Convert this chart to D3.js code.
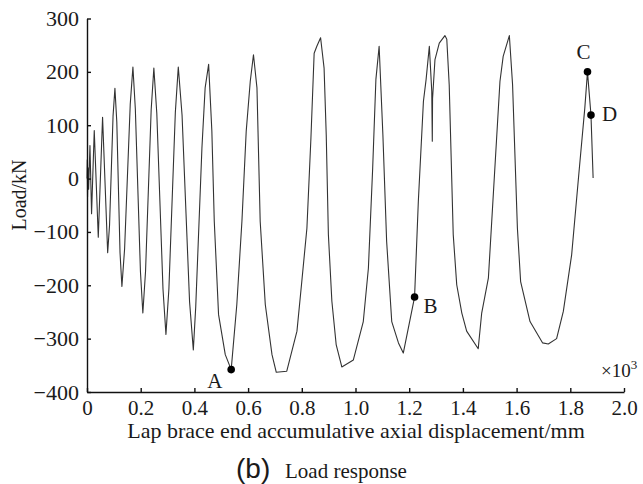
<!DOCTYPE html>
<html>
<head>
<meta charset="utf-8">
<script src="https://cdn.jsdelivr.net/npm/d3@7"></script>
<style>
body { margin: 0; background: #fff; }
svg text { font-family: "Liberation Serif", "Times New Roman", serif; fill: #1a1a1a; }
</style>
</head>
<body>
<script>
// accumulated axial displacement (x10^3 mm) and load (kN)
var disp = [0.000, 0.001, 0.002, 0.004, 0.006, 0.011, 0.017, 0.027, 0.042, 0.058,
            0.077, 0.084, 0.097, 0.104, 0.111, 0.123, 0.130, 0.140, 0.161, 0.171,
            0.180, 0.199, 0.208, 0.218, 0.239, 0.249, 0.260, 0.283, 0.294, 0.305,
            0.329, 0.340, 0.354, 0.382, 0.396, 0.405, 0.428,
            0.440, 0.453, 0.465, 0.474, 0.490, 0.515, 0.537, 0.558, 0.577, 0.593,
            0.608, 0.620, 0.633, 0.645, 0.664, 0.689, 0.705, 0.744, 0.782, 0.800,
            0.819, 0.834, 0.846, 0.856, 0.870, 0.883, 0.891, 0.899, 0.912, 0.928,
            0.949, 0.992, 1.029, 1.048, 1.064, 1.076, 1.088, 1.102, 1.116, 1.135,
            1.160, 1.178, 1.220, 1.234, 1.253, 1.263, 1.275, 1.284, 1.286, 1.287,
            1.296, 1.312, 1.333, 1.340, 1.349, 1.364, 1.377, 1.396, 1.414, 1.457,
            1.470, 1.495, 1.538, 1.550, 1.573, 1.585, 1.603, 1.615, 1.650, 1.697,
            1.718, 1.749, 1.774, 1.805, 1.832, 1.854, 1.864, 1.877, 1.885];
var load = [0, 35, -35, 20, -20, 62, -66, 90, -110, 115,
            -139, -87, 117, 169, 106, -139, -202, -132, 139, 209,
            131, -174, -252, -174, 129, 207, 122, -207, -292, -207,
            124, 209, 119, -231, -321, -240, 57,
            170, 214, 89, -80, -255, -330, -358, -236, -80, 89,
            182, 232, 170, -80, -236, -330, -363, -361, -286, -193,
            -93, 76, 235, 248, 264, 207, 82, -105, -230, -311,
            -353, -340, -268, -168, 20, 186, 248, 82, -118, -268,
            -308, -327, -222, -43, 145, 186, 248, 164, 70, 150,
            223, 254, 268, 261, 176, -105, -199, -252, -286, -319,
            -252, -186, 182, 229, 268, 176, -93, -193, -268, -308,
            -310, -300, -249, -143, 10, 132, 200, 119, 1];

// marked states
var markNames = ["A", "B", "C", "D"];
var markDisp = [0.537, 1.220, 1.864, 1.877];
var markLoad = [-358, -222, 200, 119];

var xTicks = [0, 0.2, 0.4, 0.6, 0.8, 1.0, 1.2, 1.4, 1.6, 1.8, 2.0];
var xTickLabels = ["0", "0.2", "0.4", "0.6", "0.8", "1.0", "1.2", "1.4", "1.6", "1.8", "2.0"];
var yTicks = [-400, -300, -200, -100, 0, 100, 200, 300];

var width = 643, height = 484;
var serif = "Liberation Serif, Times New Roman, serif";

var svg = d3.select("body").append("svg")
    .attr("width", width)
    .attr("height", height);

var x = d3.scaleLinear().domain([0, 2]).range([87, 624]);
var y = d3.scaleLinear().domain([-400, 300]).range([392, 18.5]);

var pts = disp.map(function (d, i) { return [d, load[i]]; });

var line = d3.line()
    .x(function (d) { return x(d[0]); })
    .y(function (d) { return y(d[1]); });

svg.append("path")
    .datum(pts)
    .attr("fill", "none")
    .attr("stroke", "#333")
    .attr("stroke-width", 1.1)
    .attr("stroke-linejoin", "round")
    .attr("d", line);

// x axis, ticks pointing inwards
var xAxis = svg.append("g")
    .attr("transform", "translate(0," + y(-400) + ")")
    .call(d3.axisBottom(x)
        .tickValues(xTicks)
        .tickFormat(function (d, i) { return xTickLabels[i]; })
        .tickSizeInner(-4)
        .tickSizeOuter(0)
        .tickPadding(8));

// y axis
var yAxis = svg.append("g")
    .attr("transform", "translate(" + x(0) + ",0)")
    .call(d3.axisLeft(y)
        .tickValues(yTicks)
        .tickSizeInner(-4)
        .tickSizeOuter(0)
        .tickPadding(8));

[xAxis, yAxis].forEach(function (g) {
    g.attr("font-family", serif).attr("font-size", 22);
    g.selectAll("path, line").attr("stroke", "#111").attr("stroke-width", 1.4);
    g.selectAll("text").attr("fill", "#1a1a1a");
});
xAxis.selectAll("text").attr("font-size", 21);

// marker points
svg.selectAll("circle.mark")
    .data(markNames)
    .enter().append("circle")
    .attr("class", "mark")
    .attr("cx", function (d, i) { return x(markDisp[i]); })
    .attr("cy", function (d, i) { return y(markLoad[i]); })
    .attr("r", 3.8)
    .attr("fill", "#000");

var labelOffsets = {A: [-24, 18], B: [9, 16], C: [-11, -13], D: [11, 6]};
svg.selectAll("text.mark")
    .data(markNames)
    .enter().append("text")
    .attr("class", "mark")
    .attr("x", function (d, i) { return x(markDisp[i]) + labelOffsets[d][0]; })
    .attr("y", function (d, i) { return y(markLoad[i]) + labelOffsets[d][1]; })
    .style("font-size", "21px")
    .text(function (d) { return d; });

// scale note
var sc = svg.append("text")
    .attr("x", 601)
    .attr("y", 377)
    .style("font-size", "19px");
sc.append("tspan").text("\u00d710");
sc.append("tspan").attr("dy", -8).style("font-size", "13px").text("3");

// axis titles
svg.append("text")
    .attr("x", 356)
    .attr("y", 438)
    .attr("text-anchor", "middle")
    .style("font-size", "22px")
    .text("Lap brace end accumulative axial displacement/mm");

svg.append("text")
    .attr("transform", "translate(26,195) rotate(-90)")
    .attr("text-anchor", "middle")
    .style("font-size", "20px")
    .text("Load/kN");

// caption
svg.append("text")
    .attr("x", 236)
    .attr("y", 478)
    .style("font-family", "Liberation Sans, Arial, sans-serif")
    .style("font-size", "28px")
    .style("font-weight", "300")
    .text("(b)");

svg.append("text")
    .attr("x", 285)
    .attr("y", 478)
    .style("font-size", "21px")
    .text("Load response");
</script>
</body>
</html>
